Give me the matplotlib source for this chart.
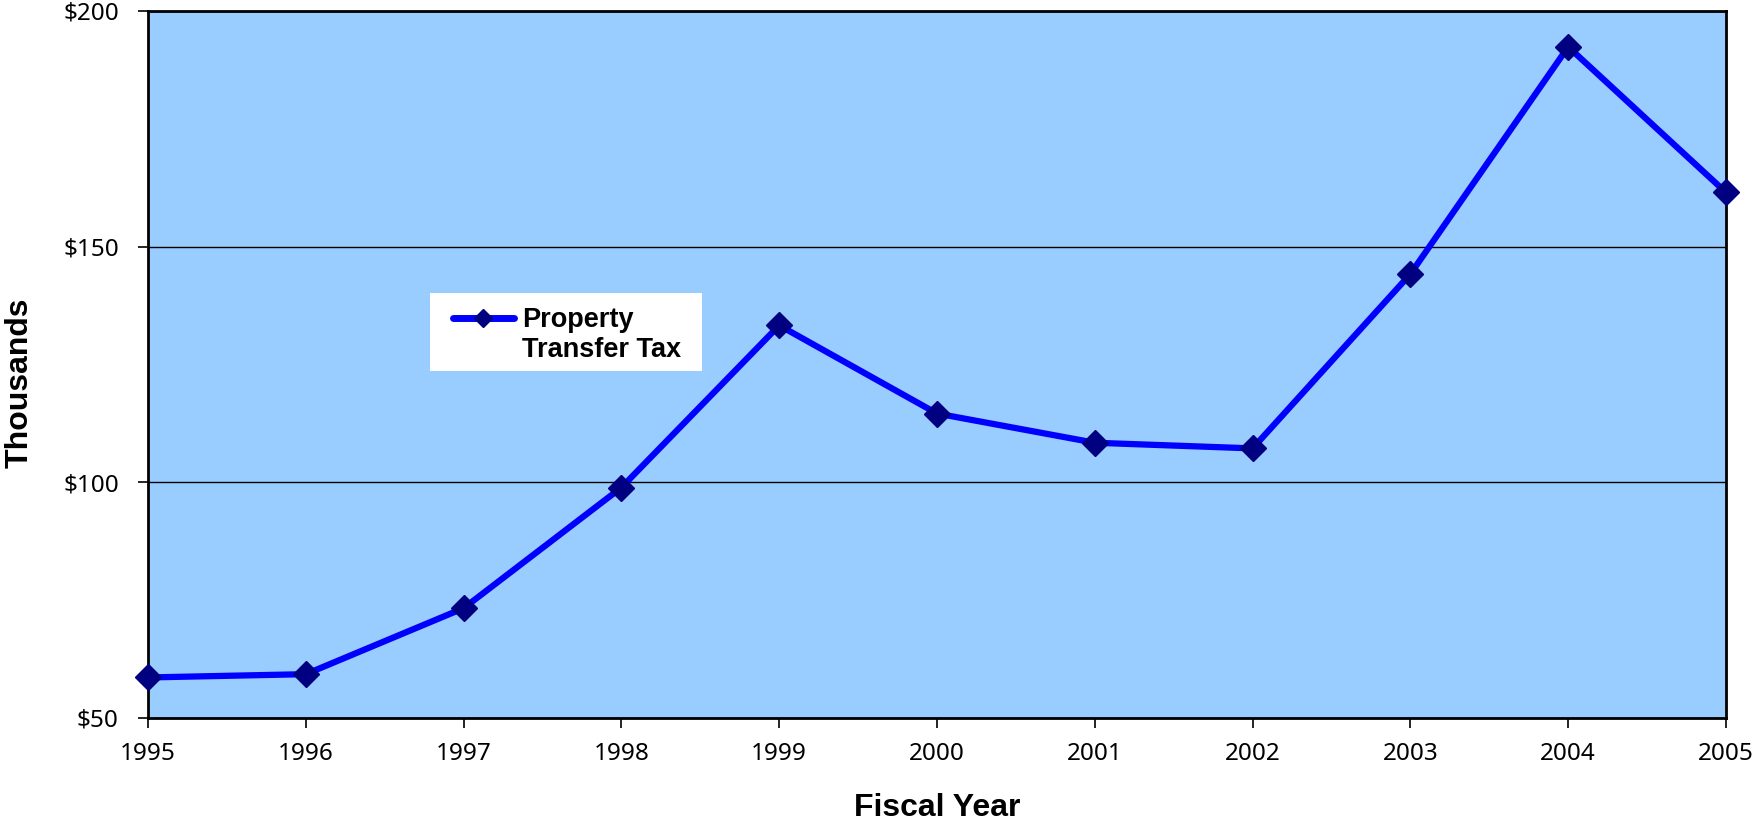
import matplotlib
matplotlib.use("Agg")
import matplotlib.pyplot as plt
from matplotlib.lines import Line2D
from matplotlib.patches import Rectangle

years = [1995, 1996, 1997, 1998, 1999, 2000, 2001, 2002, 2003, 2004, 2005]
values = [58.6, 59.3, 73.3, 98.9, 133.3, 114.6, 108.4, 107.2, 144.2, 192.4, 161.5]
series_label_lines = ["Property", "Transfer Tax"]
y_ticks = [50, 100, 150, 200]
y_tick_labels = ["$50", "$100", "$150", "$200"]

LINE_C = "#0000FF"
MARK_C = "#000080"
W, H = 1753, 823

fig = plt.figure(figsize=(17.53, 8.23), dpi=100)
ax = fig.add_axes([148/W, 1-718/H, (1726-148)/W, (718-11)/H])
ax.set_facecolor("#99CCFF")

ax.plot(years, values, color=LINE_C, lw=4.5, marker="D", markersize=13.5,
        markerfacecolor=MARK_C, markeredgecolor=MARK_C,
        solid_capstyle="round", zorder=3, clip_on=False)

ax.set_xlim(1995, 2005)
ax.set_ylim(50, 200)
ax.set_xticks(years)
ax.set_xticklabels([str(y) for y in years], fontsize=17.5, family="Noto Sans")
ax.set_yticks(y_ticks)
ax.set_yticklabels(y_tick_labels, fontsize=17.5, family="Noto Sans")
ax.tick_params(axis="both", direction="out", length=7, width=1.2, colors="black")
ax.tick_params(axis="x", pad=10)
ax.tick_params(axis="y", pad=14)
ax.grid(axis="y", color="black", lw=1)
ax.set_axisbelow(True)
for s in ax.spines.values():
    s.set_linewidth(2)
    s.set_color("black")

ax.set_xlabel("Fiscal Year", fontsize=23, fontweight="bold", family="Liberation Sans", labelpad=20)
ax.set_ylabel("Thousands", fontsize=23, fontweight="bold", family="Liberation Sans")
ax.yaxis.set_label_coords(-0.072, 0.474)

# legend background box
ax.add_patch(Rectangle((430/W, 1-371/H), (702-430)/W, (371-293)/H,
                       transform=fig.transFigure, facecolor="white",
                       edgecolor="none", zorder=4, clip_on=False))

h1 = Line2D([], [], color=LINE_C, lw=5, marker="D", markersize=9,
            markerfacecolor=MARK_C, markeredgecolor=MARK_C, solid_capstyle="round")
h2 = Line2D([], [], color="none")
leg = ax.legend([h1, h2], series_label_lines, loc="upper left",
                bbox_to_anchor=(453/W, 1-307/H),
                bbox_transform=fig.transFigure, borderaxespad=0,
                frameon=False, handlelength=2.25,
                prop={"family": "Liberation Sans", "weight": "bold", "size": 19.5},
                borderpad=0, handletextpad=0.3, labelspacing=0.15)
leg.set_zorder(5)

fig.savefig("out.png", dpi=100)
